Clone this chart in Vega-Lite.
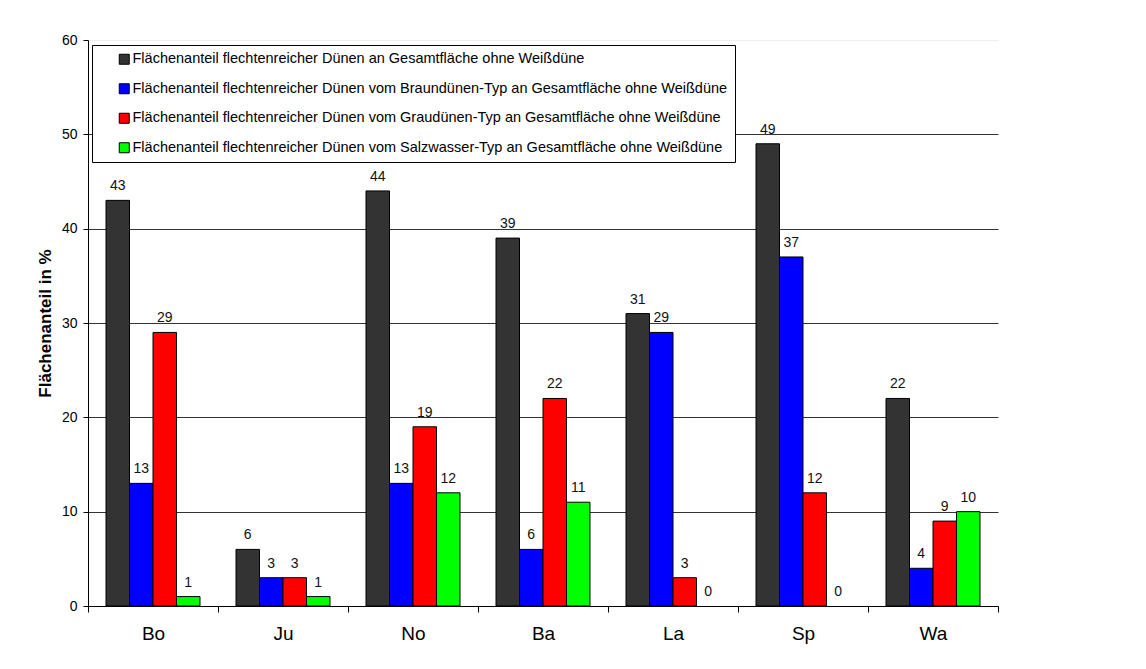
{
  "$schema": "https://vega.github.io/schema/vega-lite/v6.json",
  "width": 910,
  "height": 566,
  "autosize": {"type": "none"},
  "padding": {"left": 88, "top": 40, "right": 148, "bottom": 63},
  "background": "white",
  "config": {
    "font": "Liberation Sans",
    "view": {"stroke": null}
  },
  "data": {
    "values": [
      {"ort": "Bo", "serie": "Flächenanteil flechtenreicher Dünen an Gesamtfläche ohne Weißdüne", "wert": 43},
      {"ort": "Bo", "serie": "Flächenanteil flechtenreicher Dünen vom Braundünen-Typ an Gesamtfläche ohne Weißdüne", "wert": 13},
      {"ort": "Bo", "serie": "Flächenanteil flechtenreicher Dünen vom Graudünen-Typ an Gesamtfläche ohne Weißdüne", "wert": 29},
      {"ort": "Bo", "serie": "Flächenanteil flechtenreicher Dünen vom Salzwasser-Typ an Gesamtfläche ohne Weißdüne", "wert": 1},
      {"ort": "Ju", "serie": "Flächenanteil flechtenreicher Dünen an Gesamtfläche ohne Weißdüne", "wert": 6},
      {"ort": "Ju", "serie": "Flächenanteil flechtenreicher Dünen vom Braundünen-Typ an Gesamtfläche ohne Weißdüne", "wert": 3},
      {"ort": "Ju", "serie": "Flächenanteil flechtenreicher Dünen vom Graudünen-Typ an Gesamtfläche ohne Weißdüne", "wert": 3},
      {"ort": "Ju", "serie": "Flächenanteil flechtenreicher Dünen vom Salzwasser-Typ an Gesamtfläche ohne Weißdüne", "wert": 1},
      {"ort": "No", "serie": "Flächenanteil flechtenreicher Dünen an Gesamtfläche ohne Weißdüne", "wert": 44},
      {"ort": "No", "serie": "Flächenanteil flechtenreicher Dünen vom Braundünen-Typ an Gesamtfläche ohne Weißdüne", "wert": 13},
      {"ort": "No", "serie": "Flächenanteil flechtenreicher Dünen vom Graudünen-Typ an Gesamtfläche ohne Weißdüne", "wert": 19},
      {"ort": "No", "serie": "Flächenanteil flechtenreicher Dünen vom Salzwasser-Typ an Gesamtfläche ohne Weißdüne", "wert": 12},
      {"ort": "Ba", "serie": "Flächenanteil flechtenreicher Dünen an Gesamtfläche ohne Weißdüne", "wert": 39},
      {"ort": "Ba", "serie": "Flächenanteil flechtenreicher Dünen vom Braundünen-Typ an Gesamtfläche ohne Weißdüne", "wert": 6},
      {"ort": "Ba", "serie": "Flächenanteil flechtenreicher Dünen vom Graudünen-Typ an Gesamtfläche ohne Weißdüne", "wert": 22},
      {"ort": "Ba", "serie": "Flächenanteil flechtenreicher Dünen vom Salzwasser-Typ an Gesamtfläche ohne Weißdüne", "wert": 11},
      {"ort": "La", "serie": "Flächenanteil flechtenreicher Dünen an Gesamtfläche ohne Weißdüne", "wert": 31},
      {"ort": "La", "serie": "Flächenanteil flechtenreicher Dünen vom Braundünen-Typ an Gesamtfläche ohne Weißdüne", "wert": 29},
      {"ort": "La", "serie": "Flächenanteil flechtenreicher Dünen vom Graudünen-Typ an Gesamtfläche ohne Weißdüne", "wert": 3},
      {"ort": "La", "serie": "Flächenanteil flechtenreicher Dünen vom Salzwasser-Typ an Gesamtfläche ohne Weißdüne", "wert": 0},
      {"ort": "Sp", "serie": "Flächenanteil flechtenreicher Dünen an Gesamtfläche ohne Weißdüne", "wert": 49},
      {"ort": "Sp", "serie": "Flächenanteil flechtenreicher Dünen vom Braundünen-Typ an Gesamtfläche ohne Weißdüne", "wert": 37},
      {"ort": "Sp", "serie": "Flächenanteil flechtenreicher Dünen vom Graudünen-Typ an Gesamtfläche ohne Weißdüne", "wert": 12},
      {"ort": "Sp", "serie": "Flächenanteil flechtenreicher Dünen vom Salzwasser-Typ an Gesamtfläche ohne Weißdüne", "wert": 0},
      {"ort": "Wa", "serie": "Flächenanteil flechtenreicher Dünen an Gesamtfläche ohne Weißdüne", "wert": 22},
      {"ort": "Wa", "serie": "Flächenanteil flechtenreicher Dünen vom Braundünen-Typ an Gesamtfläche ohne Weißdüne", "wert": 4},
      {"ort": "Wa", "serie": "Flächenanteil flechtenreicher Dünen vom Graudünen-Typ an Gesamtfläche ohne Weißdüne", "wert": 9},
      {"ort": "Wa", "serie": "Flächenanteil flechtenreicher Dünen vom Salzwasser-Typ an Gesamtfläche ohne Weißdüne", "wert": 10}
    ]
  },
  "encoding": {
    "x": {
      "field": "ort",
      "type": "nominal",
      "sort": ["Bo", "Ju", "No", "Ba", "La", "Sp", "Wa"],
      "scale": {"paddingInner": 0, "paddingOuter": 0},
      "axis": {
        "title": null,
        "labelAngle": 0,
        "labelFontSize": 19,
        "labelColor": "black",
        "labelPadding": 12,
        "tickBand": "extent",
        "tickSize": 6,
        "tickColor": "black",
        "domainColor": "black",
        "grid": false
      }
    },
    "xOffset": {
      "field": "serie",
      "type": "nominal",
      "sort": [
        "Flächenanteil flechtenreicher Dünen an Gesamtfläche ohne Weißdüne",
        "Flächenanteil flechtenreicher Dünen vom Braundünen-Typ an Gesamtfläche ohne Weißdüne",
        "Flächenanteil flechtenreicher Dünen vom Graudünen-Typ an Gesamtfläche ohne Weißdüne",
        "Flächenanteil flechtenreicher Dünen vom Salzwasser-Typ an Gesamtfläche ohne Weißdüne"
      ],
      "scale": {"paddingInner": 0, "paddingOuter": 0.766}
    },
    "y": {
      "field": "wert",
      "type": "quantitative",
      "scale": {"domain": [0, 60], "nice": false},
      "axis": {
        "title": "Flächenanteil in %",
        "titleFontSize": 17,
        "titleFontWeight": "bold",
        "titleColor": "black",
        "titlePadding": 7,
        "values": [0, 10, 20, 30, 40, 50, 60],
        "labelFontSize": 14,
        "labelColor": "black",
        "labelPadding": 6,
        "tickSize": 5,
        "tickColor": "black",
        "domainColor": "black",
        "grid": true,
        "gridColor": {"condition": {"test": "datum.value == 60", "value": "#eeeeee"}, "value": "#333333"},
        "gridOpacity": 1
      }
    }
  },
  "layer": [
    {
      "transform": [{"filter": "datum.wert > 0"}],
      "mark": {"type": "bar", "stroke": "black", "strokeWidth": 1},
      "encoding": {
        "color": {
          "field": "serie",
          "type": "nominal",
          "scale": {
            "domain": [
              "Flächenanteil flechtenreicher Dünen an Gesamtfläche ohne Weißdüne",
              "Flächenanteil flechtenreicher Dünen vom Braundünen-Typ an Gesamtfläche ohne Weißdüne",
              "Flächenanteil flechtenreicher Dünen vom Graudünen-Typ an Gesamtfläche ohne Weißdüne",
              "Flächenanteil flechtenreicher Dünen vom Salzwasser-Typ an Gesamtfläche ohne Weißdüne"
            ],
            "range": ["#333333", "#0000ff", "#ff0000", "#00ff00"]
          },
          "legend": {
            "title": null,
            "orient": "none",
            "legendX": 4,
            "legendY": 5,
            "strokeColor": "black",
            "fillColor": "white",
            "padding": 7,
            "symbolType": "square",
            "symbolSize": 100,
            "symbolStrokeColor": "black",
            "symbolStrokeWidth": 1,
            "symbolOffset": 18,
            "labelOffset": 1,
            "labelFontSize": 14.5,
            "labelColor": "black",
            "labelLimit": 900,
            "labelExpr": "datum.label + '\u00a0\u00a0\u00a0\u00a0\u00a0'",
            "rowPadding": 13.5
          }
        }
      }
    },
    {
      "mark": {"type": "text", "fontSize": 14, "color": "#111111", "align": "center", "baseline": "alphabetic", "dy": -10},
      "encoding": {
        "text": {"field": "wert", "type": "quantitative"}
      }
    }
  ]
}
